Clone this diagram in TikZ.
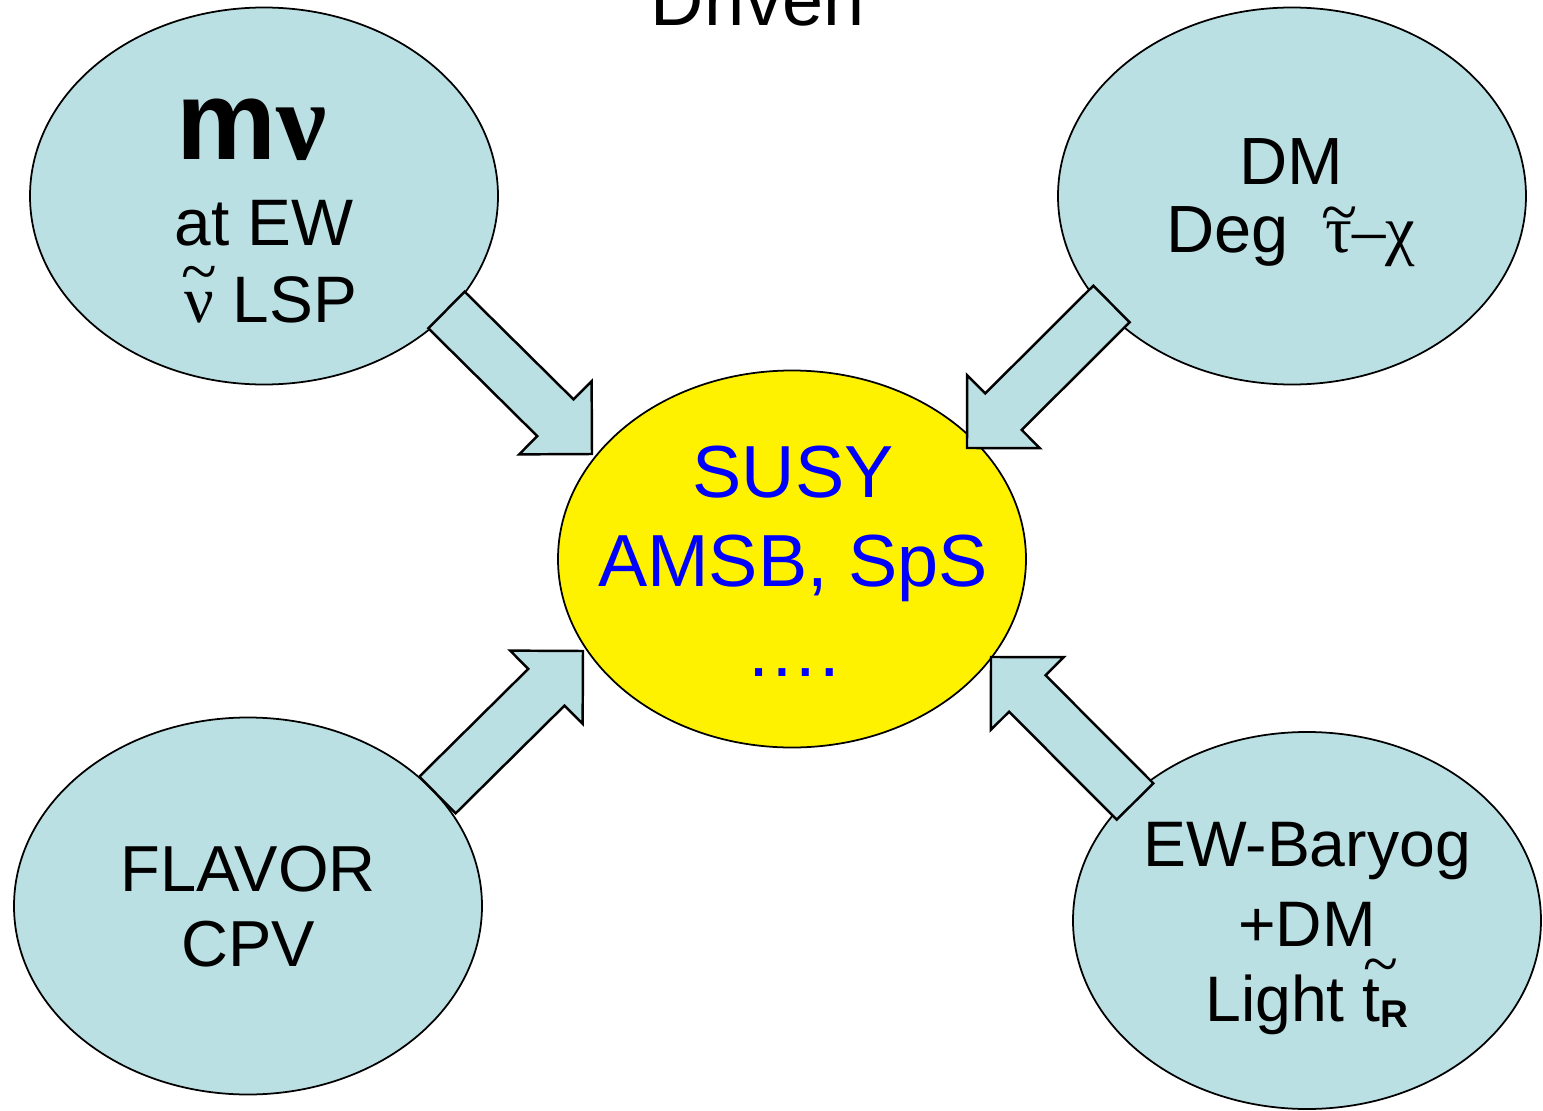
\documentclass[tikz,border=0pt]{standalone}
\usepackage{fontspec}
\setmainfont{Liberation Sans}
\newfontfamily\greekfont{Liberation Serif}
\usetikzlibrary{shapes.geometric,calc}
\definecolor{bubblefill}{RGB}{187,224,227}
% #1 sideways shift, #2 lift of the tilde, #3 letter
\newcommand{\tildeit}[3][0pt]{\leavevmode\setbox0\hbox{#3}%
  \rlap{\kern#1\hbox to\wd0{\hss\raisebox{#2}{\greekfont\textasciitilde}\hss}}\box0}

\begin{document}
\begin{tikzpicture}[
  bubble/.style={ellipse,draw=black,line width=0.5pt,fill=bubblefill,
    minimum width=4.68cm,minimum height=3.77cm,inner sep=0pt},
  core/.style={bubble,fill=yellow},
  bubbletext/.style={align=center,inner sep=0pt},
  blockarrow/.style={draw=black,line width=0.7pt,fill=bubblefill,line join=miter}]

  \clip (0,0) rectangle (15.43,11.10);
  \fill[white] (0,0) rectangle (15.43,11.10);

  % the five bubbles
  \node[bubble] (nu) at (2.64,9.14) {};
  \node[bubble] (dm) at (12.92,9.14) {};
  \node[core] (susy) at (7.92,5.51) {};
  \node[bubble] (flavor) at (2.48,2.04) {};
  \node[bubble] (baryog) at (13.07,1.895) {};

  % arrow ends
  \coordinate (nu-tail) at (4.465,8.00);
  \coordinate (nu-tip) at (5.92,6.56);
  \coordinate (dm-tail) at (11.115,8.06);
  \coordinate (dm-tip) at (9.67,6.62);
  \coordinate (flavor-tail) at (4.375,3.15);
  \coordinate (flavor-tip) at (5.83,4.59);
  \coordinate (baryog-tail) at (11.35,3.085);
  \coordinate (baryog-tip) at (9.91,4.53);

  \foreach \from in {nu,dm,flavor,baryog}{
    \coordinate (neck) at ($(\from-tip)!0.515cm!(\from-tail)$);
    \draw[blockarrow] ($(\from-tail)!0.258cm!90:(\from-tip)$)
      -- ($(neck)!0.258cm!90:(\from-tip)$)
      -- ($(neck)!0.515cm!90:(\from-tip)$)
      -- (\from-tip)
      -- ($(neck)!0.515cm!-90:(\from-tip)$)
      -- ($(neck)!0.258cm!-90:(\from-tip)$)
      -- ($(\from-tail)!0.258cm!-90:(\from-tip)$) -- cycle;
  }

  % texts
  \node[anchor=base,font=\fontsize{21}{25}\selectfont] (driven) at (7.575,10.85) {Driven};
  \node[bubbletext,font=\fontsize{18.7}{21.9}\selectfont] (nutext) at (2.64,8.99)
    {{\fontsize{32}{32}\selectfont\bfseries m{\greekfont\bfseries ν}}\hspace*{0.24cm}\\[2.6pt]
     at EW\\
     \hspace*{0.14cm}{\greekfont\tildeit{8.3pt}{ν}} LSP};
  \node[bubbletext,font=\fontsize{19}{19.4}\selectfont] (dmtext) at (12.91,9.075)
    {DM\\Deg\hspace{0.55em}{\greekfont\tildeit{5.2pt}{τ}–χ}};
  \node[bubbletext,font=\fontsize{21}{25.5}\selectfont,text=blue] (susytext) at (7.93,5.49)
    {SUSY\\AMSB, SpS\\….};
  \node[bubbletext,font=\fontsize{18.5}{21.3}\selectfont] (flavortext) at (2.48,2.035)
    {FLAVOR\\CPV};
  \node[bubbletext,font=\fontsize{18.3}{21.3}\selectfont] (baryogtext) at (13.07,1.815)
    {EW-Baryog\\[1.3pt]+DM\\Light \tildeit[0.09cm]{10pt}{t}\raisebox{-1.7pt}{\fontsize{11}{11}\selectfont\bfseries R}};
\end{tikzpicture}
\end{document}
